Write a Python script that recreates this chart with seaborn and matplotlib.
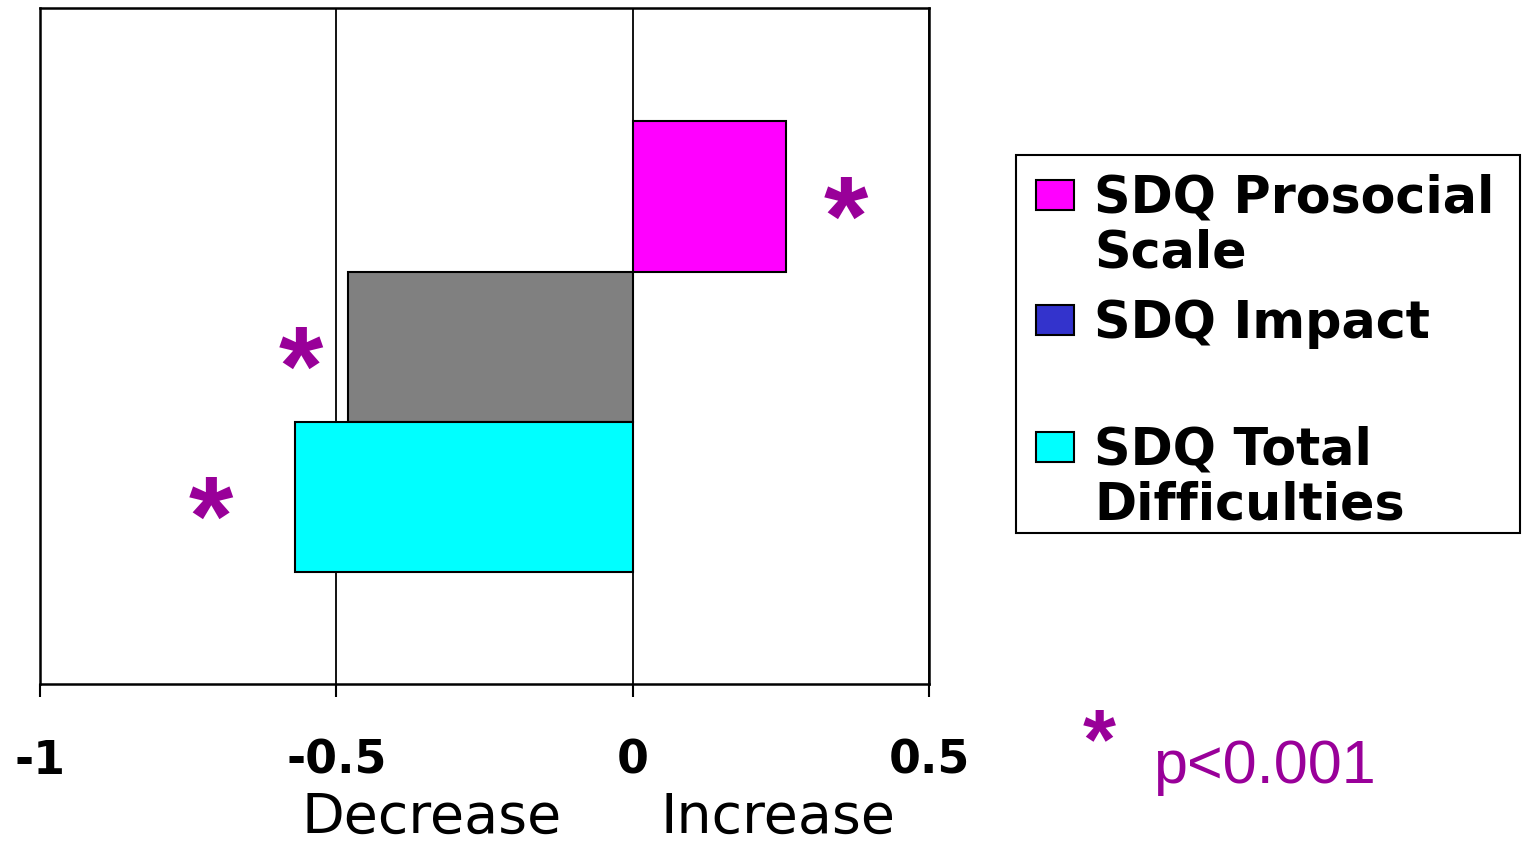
"""Change in SDQ scores: horizontal bar chart with significance markers."""

import matplotlib

matplotlib.use("Agg")
import matplotlib.pyplot as plt
import pandas as pd
import seaborn as sns
from matplotlib.patches import Rectangle

# --- data ------------------------------------------------------------------
measures = ["SDQ Prosocial Scale", "SDQ Impact", "SDQ Total Difficulties"]
change = [0.258, -0.481, -0.570]
bar_colors = ["#FF00FF", "#808080", "#00FFFF"]

legend_labels = ["SDQ Prosocial\nScale", "SDQ Impact", "SDQ Total\nDifficulties"]
legend_colors = ["#FF00FF", "#3333CC", "#00FFFF"]

x_ticks = [-1, -0.5, 0, 0.5]
x_tick_labels = ["-1", "-0.5", "0", "0.5"]

# where the "*" markers sit (x in data units), one per bar
star_x = [0.359, -0.560, -0.712]
STAR_COLOR = "#990099"

df = pd.DataFrame({"measure": measures, "change": change})

sns.set_style("white")
plt.rcParams["font.family"] = ["DejaVu Sans"]
plt.rcParams["text.color"] = "black"
plt.rcParams["xtick.color"] = "black"
plt.rcParams["axes.labelcolor"] = "black"

W, H = 1522, 848
fig = plt.figure(figsize=(W / 100, H / 100), dpi=100)
ax = fig.add_axes([40 / W, 1 - 684 / H, (929 - 40) / W, (684 - 8) / H])

sns.barplot(
    data=df, y="measure", x="change", hue="measure", palette=bar_colors,
    orient="h", width=1.0, saturation=1, edgecolor="black", linewidth=1.5,
    legend=False, ax=ax, zorder=3,
)

ax.set_xlim(-1, 0.5)
ax.set_ylim(3.245, -1.255)
ax.set_xlabel("")
ax.set_ylabel("")
ax.set_yticks([])
ax.set_xticks(x_ticks)
ax.set_xticklabels(x_tick_labels, fontsize=33, fontweight="bold", color="black")
ax.tick_params(axis="x", direction="out", length=9.4, width=1.5,
               color="black", pad=30, bottom=True)
ax.set_axisbelow(True)
ax.grid(axis="x", color="black", linewidth=1.3)
ax.grid(axis="y", visible=False)
for side in ["left", "right", "top", "bottom"]:
    ax.spines[side].set_visible(True)
    ax.spines[side].set_color("black")
    ax.spines[side].set_linewidth(1.8)

# significance stars next to the bars
for i, sx in enumerate(star_x):
    ax.annotate("*", xy=(sx, i - 0.03), xytext=(0, -45), textcoords="offset points",
                ha="center", va="baseline", fontsize=82, fontweight="bold",
                color=STAR_COLOR, family="Liberation Sans")

# direction labels under the axis
xa = ax.get_xaxis_transform()
ax.text(-0.339, -0.2204, "Decrease", transform=xa, ha="center", va="baseline",
        fontsize=40, color="black")
ax.text(0.246, -0.2204, "Increase", transform=xa, ha="center", va="baseline",
        fontsize=40, color="black")

# legend drawn by hand so the swatch sits on the first text line
fig.add_artist(Rectangle((1016 / W, 1 - 533 / H), (1520 - 1016) / W, (533 - 155) / H,
                         transform=fig.transFigure, facecolor="white",
                         edgecolor="black", linewidth=1.5))
swatch_top = [180, 305, 432]
text_base = [213, 338, 464]
for lab, col, top, base in zip(legend_labels, legend_colors, swatch_top, text_base):
    fig.add_artist(Rectangle((1036 / W, 1 - (top + 30) / H), 38 / W, 30 / H,
                             transform=fig.transFigure, facecolor=col,
                             edgecolor="black", linewidth=1.5))
    lines = lab.split("\n")
    for k, line in enumerate(lines):
        fig.text(1094 / W, 1 - (base + 55 * k) / H, line, fontsize=36.5,
                 fontweight="bold", va="baseline", ha="left", color="black")

# significance key
fig.text(1099 / W, 1 - 768 / H, "*", fontsize=61, fontweight="bold",
         color=STAR_COLOR, family="Liberation Sans", ha="center", va="baseline")
fig.text(1153 / W, 1 - 783 / H, "p<0.001", fontsize=44, color=STAR_COLOR,
         family="Liberation Sans", ha="left", va="baseline")

fig.savefig("out.png", dpi=100, facecolor="white")
